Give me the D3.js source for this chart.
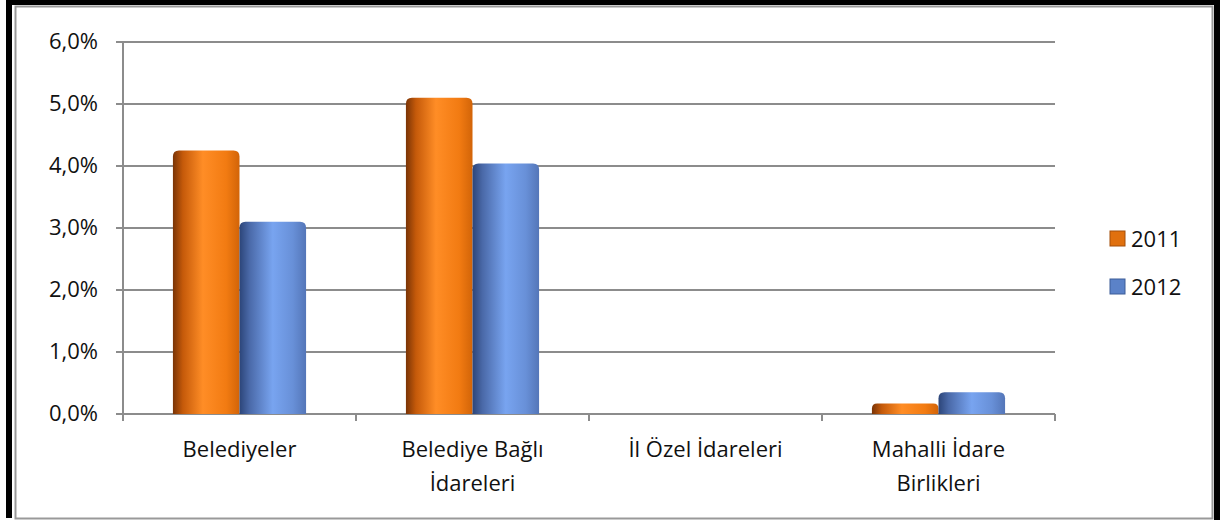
<!DOCTYPE html>
<html>
<head>
<meta charset="utf-8">
<script src="https://cdn.jsdelivr.net/npm/d3@7"></script>
<style>
  body { margin: 0; background: #fff; }
  text { font-family: "Open Sans", "Noto Sans", sans-serif; fill: #111; }
</style>
</head>
<body>
<div id="chart"></div>
<script>
const categories = [["Belediyeler"], ["Belediye Bağlı", "İdareleri"], ["İl Özel İdareleri"], ["Mahalli İdare", "Birlikleri"]]
const years = ["2011", "2012"]
const values2011 = [4.25, 5.1, 0, 0.17]
const values2012 = [3.1, 4.04, 0, 0.35]
const yTicks = [0, 1, 2, 3, 4, 5, 6]

const width = 1220, height = 520
const plot = { left: 123, right: 1055, top: 42, bottom: 414 }

let svg = d3.select("#chart").append("svg")
  .attr("width", width)
  .attr("height", height)

// outer frame
svg.append("rect").attr("x", 0).attr("y", 0).attr("width", width).attr("height", height).attr("fill", "#fff")
svg.append("rect").attr("x", 6).attr("y", 0).attr("width", 6).attr("height", 518).attr("fill", "#000")
svg.append("rect").attr("x", 6).attr("y", 0).attr("width", 1214).attr("height", 5).attr("fill", "#000")
svg.append("rect").attr("x", 1214).attr("y", 0).attr("width", 6).attr("height", 520).attr("fill", "#000")
svg.append("rect")
  .attr("x", 15.5).attr("y", 6.5).attr("width", 1197).attr("height", 512)
  .attr("fill", "none").attr("stroke", "#999").attr("stroke-width", 2)

let defs = svg.append("defs")
let grad = (id, stops) => {
  let g = defs.append("linearGradient").attr("id", id)
    .attr("x1", "0%").attr("x2", "100%").attr("y1", "0%").attr("y2", "0%")
  stops.forEach(s => g.append("stop").attr("offset", s[0]).attr("stop-color", s[1]))
}
grad("g2011", [["0%", "#7a3406"], ["15%", "#c55a0a"], ["45%", "#ff8d26"], ["80%", "#f27b12"], ["100%", "#d26408"]])
grad("g2012", [["0%", "#2c4579"], ["15%", "#4a69a8"], ["50%", "#78a4f0"], ["80%", "#6890d8"], ["100%", "#5476b8"]])
const fills = ["url(#g2011)", "url(#g2012)"]

let x = d3.scaleBand()
  .domain(d3.range(categories.length))
  .range([plot.left, plot.right])

let x1 = d3.scaleBand()
  .domain(years)
  .range([0, x.bandwidth()])
  .paddingOuter(0.75)
  .paddingInner(0)

let y = d3.scaleLinear()
  .domain([0, 6])
  .range([plot.bottom, plot.top])

// gridlines
svg.append("g")
  .selectAll("line").data(yTicks).enter().append("line")
  .attr("x1", plot.left - 7).attr("x2", plot.right)
  .attr("y1", d => y(d)).attr("y2", d => y(d))
  .attr("stroke", "#8c8c8c").attr("stroke-width", 2)

// y axis line
svg.append("line")
  .attr("x1", plot.left).attr("x2", plot.left)
  .attr("y1", plot.top).attr("y2", plot.bottom + 7)
  .attr("stroke", "#8c8c8c").attr("stroke-width", 2)

// category ticks
svg.append("g")
  .selectAll("line").data(d3.range(categories.length + 1)).enter().append("line")
  .attr("x1", i => plot.left + i * x.bandwidth()).attr("x2", i => plot.left + i * x.bandwidth())
  .attr("y1", plot.bottom).attr("y2", plot.bottom + 7)
  .attr("stroke", "#8c8c8c").attr("stroke-width", 2)

// y labels
svg.append("g")
  .selectAll("text").data(yTicks).enter().append("text")
  .attr("x", 98).attr("y", d => y(d) + 7)
  .attr("text-anchor", "end")
  .attr("font-size", 22)
  .text(d => d3.format(".1f")(d).replace(".", ",") + "%")

// bars
let series = [values2011, values2012]
years.forEach((yr, si) => {
  svg.append("g")
    .selectAll("path").data(series[si]).enter().append("path")
    .attr("fill", fills[si])
    .attr("d", (v, i) => {
      if (v <= 0) return null
      let x0 = x(i) + x1(yr), w = x1.bandwidth()
      let top = y(v), bot = y(0)
      let r = Math.min(6, (bot - top) / 2)
      return `M${x0},${bot} L${x0},${top + r} Q${x0},${top} ${x0 + r},${top} ` +
        `L${x0 + w - r},${top} Q${x0 + w},${top} ${x0 + w},${top + r} L${x0 + w},${bot} Z`
    })
})

// category labels
let cat = svg.append("g")
  .selectAll("text").data(categories).enter().append("text")
  .attr("x", (d, i) => x(i) + x.bandwidth() / 2)
  .attr("y", 457)
  .attr("text-anchor", "middle")
  .attr("font-size", 22)
cat.selectAll("tspan").data(d => d).enter().append("tspan")
  .attr("x", function() { return d3.select(this.parentNode).attr("x") })
  .attr("dy", (d, i) => i === 0 ? 0 : 34)
  .text(d => d)

// legend
let legend = svg.append("g")
  .selectAll("g").data(years).enter().append("g")
  .attr("transform", (d, i) => `translate(1110, ${231 + i * 48})`)
legend.append("rect")
  .attr("width", 15).attr("height", 15)
  .attr("fill", (d, i) => i === 0 ? "#e0700e" : "#5b82c8")
  .attr("stroke", (d, i) => i === 0 ? "#a44e08" : "#3d5d98")
legend.append("text")
  .attr("x", 21).attr("y", 16)
  .attr("font-size", 22)
  .text(d => d)
</script>
</body>
</html>
